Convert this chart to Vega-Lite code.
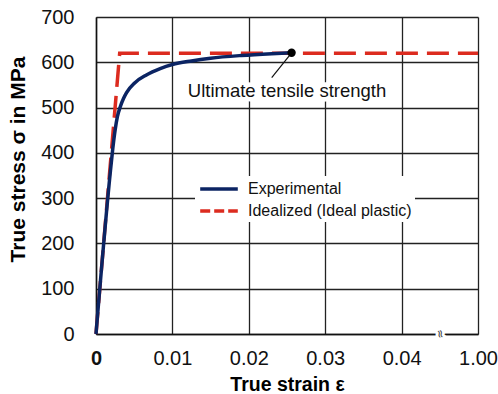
{
  "$schema": "https://vega.github.io/schema/vega-lite/v6.json",
  "width": 382,
  "height": 317,
  "autosize": {"type": "none"},
  "padding": {"left": 96, "top": 17, "right": 20, "bottom": 60},
  "background": "white",
  "config": {
    "font": "Liberation Sans",
    "view": {"stroke": null}
  },
  "datasets": {
    "curves": [
      {"series": "Idealized (Ideal plastic)", "strain": 0, "stress": 0},
      {"series": "Idealized (Ideal plastic)", "strain": 0.0031, "stress": 620},
      {"series": "Idealized (Ideal plastic)", "strain": 0.05, "stress": 620},
      {"series": "Experimental", "strain": 0, "stress": 0},
      {"series": "Experimental", "strain": 0.0019, "stress": 362},
      {"series": "Experimental", "strain": 0.0022, "stress": 410},
      {"series": "Experimental", "strain": 0.0025, "stress": 450},
      {"series": "Experimental", "strain": 0.0028, "stress": 480},
      {"series": "Experimental", "strain": 0.0032, "stress": 503},
      {"series": "Experimental", "strain": 0.0036, "stress": 520},
      {"series": "Experimental", "strain": 0.004, "stress": 533},
      {"series": "Experimental", "strain": 0.0051, "stress": 555},
      {"series": "Experimental", "strain": 0.0066, "stress": 572},
      {"series": "Experimental", "strain": 0.0084, "stress": 586},
      {"series": "Experimental", "strain": 0.01, "stress": 595},
      {"series": "Experimental", "strain": 0.0125, "stress": 603},
      {"series": "Experimental", "strain": 0.015, "stress": 609},
      {"series": "Experimental", "strain": 0.019, "stress": 615},
      {"series": "Experimental", "strain": 0.023, "stress": 619},
      {"series": "Experimental", "strain": 0.0256, "stress": 621}
    ],
    "annot": [
      {"strain": 0.0256, "stress": 621, "lead_strain": 0.023, "lead_stress": 566, "label_strain": 0.025, "label_stress": 536, "text": "Ultimate tensile strength"}
    ],
    "brk": [
      {"strain": 0.045, "stress": 0, "text": "≈"}
    ]
  },
  "layer": [
    {
      "data": {"name": "annot"},
      "mark": {"type": "text", "fontSize": 18.5, "stroke": "white", "strokeWidth": 9, "fill": "white", "baseline": "middle", "align": "center"},
      "encoding": {
        "x": {"field": "label_strain", "type": "quantitative", "scale": {"domain": [0, 0.05], "nice": false},
          "axis": {
            "values": [0, 0.01, 0.02, 0.03, 0.04, 0.05],
            "labelExpr": "datum.value >= 0.049 ? '1.00' : (datum.value == 0 ? '0' : format(datum.value, '.2f'))",
            "title": "True strain ε",
            "titleFontSize": 19.5, "titleFontWeight": "bold", "titleColor": "black",
            "titleY": 56, "titleBaseline": "alphabetic",
            "labelFontSize": 20, "labelColor": "#111", "labelPadding": 14, "labelFlush": false, "labelOverlap": false,
            "labelFontWeight": {"condition": {"test": "datum.value == 0", "value": "bold"}, "value": "normal"},
            "ticks": false, "grid": true, "gridColor": "#222", "gridWidth": 1.3,
            "domainColor": "#111", "domainWidth": 1.5
          }},
        "y": {"field": "label_stress", "type": "quantitative", "scale": {"domain": [0, 700], "nice": false},
          "axis": {
            "values": [0, 100, 200, 300, 400, 500, 600, 700],
            "title": "True stress σ in MPa",
            "titleFontSize": 21, "titleFontWeight": "bold", "titleColor": "black",
            "titleX": -78, "titleY": 142, "titleAngle": -90, "titleAlign": "center", "titleBaseline": "middle",
            "labelFontSize": 20, "labelColor": "#111", "labelPadding": 22, "labelFlush": false,
            "ticks": false, "grid": true, "gridColor": "#222", "gridWidth": 1.3,
            "domainColor": "#111", "domainWidth": 1.5
          }},
        "text": {"field": "text"}
      }
    },
    {
      "data": {"name": "annot"},
      "mark": {"type": "text", "fontSize": 18.5, "color": "#111", "baseline": "middle", "align": "center"},
      "encoding": {
        "x": {"field": "label_strain", "type": "quantitative"},
        "y": {"field": "label_stress", "type": "quantitative"},
        "text": {"field": "text"}
      }
    },
    {
      "data": {"name": "curves"},
      "transform": [{"filter": "datum.series == 'none'"}],
      "mark": {"type": "line", "strokeWidth": 3.5},
      "encoding": {
        "x": {"field": "strain", "type": "quantitative"},
        "y": {"field": "stress", "type": "quantitative"},
        "color": {"field": "series", "type": "nominal",
          "scale": {"domain": ["Experimental", "Idealized (Ideal plastic)"], "range": ["#0b2463", "#dc2b1f"]},
          "legend": {
            "orient": "none", "legendX": 99, "legendY": 159, "title": null,
            "fillColor": "white", "padding": 3,
            "labelFontSize": 16, "labelColor": "#111", "labelLimit": 400,
            "symbolType": "M-2.35,0H2.35", "symbolSize": 256, "symbolStrokeWidth": 3.5,
            "symbolOffset": 11, "labelOffset": 19, "rowPadding": 4
          }},
        "strokeDash": {"field": "series", "type": "nominal",
          "scale": {"domain": ["Experimental", "Idealized (Ideal plastic)"], "range": [[1, 0], [10, 4]]},
          "legend": {
            "orient": "none", "legendX": 99, "legendY": 159, "title": null,
            "fillColor": "white", "padding": 3,
            "labelFontSize": 16, "labelColor": "#111", "labelLimit": 400,
            "symbolType": "M-2.35,0H2.35", "symbolSize": 256, "symbolStrokeWidth": 3.5,
            "symbolOffset": 11, "labelOffset": 19, "rowPadding": 4
          }}
      }
    },
    {
      "data": {"name": "curves"},
      "transform": [{"filter": "datum.series != 'Experimental'"}],
      "mark": {"type": "line", "strokeWidth": 3.5, "strokeDash": [22, 9]},
      "encoding": {
        "x": {"field": "strain", "type": "quantitative"},
        "y": {"field": "stress", "type": "quantitative"},
        "color": {"field": "series", "type": "nominal", "legend": null}
      }
    },
    {
      "data": {"name": "curves"},
      "transform": [{"filter": "datum.series == 'Experimental'"}],
      "mark": {"type": "line", "strokeWidth": 3.5, "interpolate": "monotone"},
      "encoding": {
        "x": {"field": "strain", "type": "quantitative"},
        "y": {"field": "stress", "type": "quantitative"},
        "color": {"field": "series", "type": "nominal", "legend": null}
      }
    },
    {
      "data": {"name": "annot"},
      "mark": {"type": "rule", "color": "#111", "strokeWidth": 1.2},
      "encoding": {
        "x": {"field": "strain", "type": "quantitative"},
        "y": {"field": "stress", "type": "quantitative"},
        "x2": {"field": "lead_strain"},
        "y2": {"field": "lead_stress"}
      }
    },
    {
      "data": {"name": "annot"},
      "mark": {"type": "point", "filled": true, "color": "black", "size": 70, "opacity": 1},
      "encoding": {
        "x": {"field": "strain", "type": "quantitative"},
        "y": {"field": "stress", "type": "quantitative"}
      }
    },
    {
      "data": {"name": "brk"},
      "mark": {"type": "text", "font": "DejaVu Sans", "fontSize": 11, "angle": 80, "stroke": "white", "strokeWidth": 6, "fill": "white", "baseline": "middle", "align": "center"},
      "encoding": {
        "x": {"field": "strain", "type": "quantitative"},
        "y": {"field": "stress", "type": "quantitative"},
        "text": {"field": "text"}
      }
    },
    {
      "data": {"name": "brk"},
      "mark": {"type": "text", "font": "DejaVu Sans", "fontSize": 11, "angle": 80, "color": "#333", "baseline": "middle", "align": "center"},
      "encoding": {
        "x": {"field": "strain", "type": "quantitative"},
        "y": {"field": "stress", "type": "quantitative"},
        "text": {"field": "text"}
      }
    }
  ]
}
